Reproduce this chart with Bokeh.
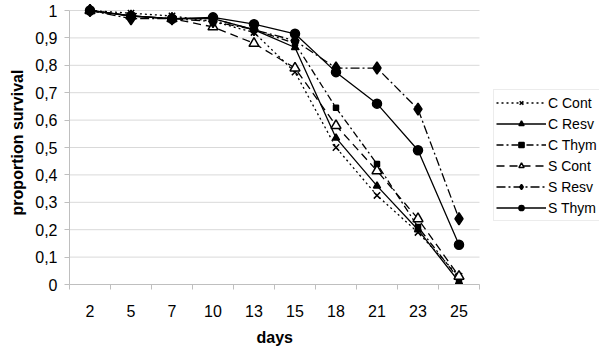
from bokeh.plotting import figure
from bokeh.models import Range1d, FixedTicker, Legend, LegendItem, Title
from bokeh.embed import file_html
from bokeh.resources import INLINE

days = ["2", "5", "7", "10", "13", "15", "18", "21", "23", "25"]
c_cont = [1.0, 0.99, 0.98, 0.96, 0.92, 0.775, 0.50, 0.325, 0.19, 0.03]
c_resv = [1.0, 0.98, 0.97, 0.97, 0.93, 0.865, 0.535, 0.36, 0.20, 0.01]
c_thym = [1.0, 0.98, 0.97, 0.97, 0.93, 0.88, 0.645, 0.44, 0.21, 0.02]
s_cont = [1.0, 0.98, 0.97, 0.94, 0.88, 0.79, 0.58, 0.415, 0.24, 0.03]
s_resv = [1.0, 0.97, 0.97, 0.96, 0.93, 0.89, 0.79, 0.79, 0.64, 0.24]
s_thym = [1.0, 0.98, 0.97, 0.975, 0.95, 0.915, 0.775, 0.66, 0.49, 0.145]
y_ticks = [i / 10 for i in range(11)]
y_tick_labels = ["0", "0,1", "0,2", "0,3", "0,4", "0,5", "0,6", "0,7", "0,8", "0,9", "1"]

FONT = "Liberation Sans"
n = len(days)
xs = [i + 0.5 for i in range(n)]

# plot area of the categories is 410 px wide; the frame extends to the right
# so that the legend (drawn inside the frame) is not clipped
p = figure(width=600, height=356, output_backend="svg", toolbar_location=None,
           x_range=Range1d(0, n * 530 / 410), y_range=Range1d(0, 1 + 10 / 274),
           min_border_left=69, min_border_right=1, min_border_top=0,
           min_border_bottom=72)
p.outline_line_color = None
p.background_fill_color = "white"
p.border_fill_color = "white"

# horizontal grid lines limited to the category area
p.xgrid.grid_line_color = None
p.ygrid.grid_line_color = None
p.segment(x0=[0] * len(y_ticks), x1=[n] * len(y_ticks), y0=y_ticks, y1=y_ticks,
          line_color="#d9d9d9", line_width=1)

# axes
p.xaxis.ticker = FixedTicker(ticks=xs, minor_ticks=list(range(n + 1)))
p.xaxis.major_label_overrides = {x: d for x, d in zip(xs, days)}
p.xaxis.bounds = (0, n)
p.xaxis.major_tick_out = 0
p.xaxis.major_tick_in = 0
p.xaxis.minor_tick_out = 5
p.xaxis.minor_tick_in = 0
p.xaxis.minor_tick_line_color = "#bfbfbf"
p.xaxis.axis_line_color = "#bfbfbf"
p.xaxis.major_label_standoff = 15

p.yaxis.ticker = FixedTicker(ticks=y_ticks, minor_ticks=[])
p.yaxis.major_label_overrides = {t: l for t, l in zip(y_ticks, y_tick_labels)}
p.yaxis.bounds = (0, 1)
p.yaxis.major_tick_out = 5
p.yaxis.major_tick_in = 0
p.yaxis.major_tick_line_color = "#bfbfbf"
p.yaxis.axis_line_color = "#bfbfbf"
p.yaxis.major_label_standoff = 7
p.yaxis.axis_label = "proportion survival"
p.yaxis.axis_label_standoff = 6

for ax in (p.xaxis[0], p.yaxis[0]):
    ax.major_label_text_font = FONT
    ax.major_label_text_font_size = "16px"
    ax.major_label_text_color = "black"
    ax.axis_label_text_font = FONT
    ax.axis_label_text_font_size = "16px"
    ax.axis_label_text_font_style = "bold"
    ax.axis_label_text_color = "black"

# x axis title centred under the category area
xtitle = Title(text="days", align="left", offset=187, standoff=14,
               text_font=FONT, text_font_size="16px", text_font_style="bold",
               text_color="black")
p.add_layout(xtitle, "below")

series = [
    ("C Cont", c_cont, "2 3", "x", 9, "black"),
    ("C Resv", c_resv, "solid", "triangle", 7, "black"),
    ("C Thym", c_thym, "7 3 2 3", "square", 5, "black"),
    ("S Cont", s_cont, "8 5", "triangle", 10, "white"),
    ("S Resv", s_resv, "9 3 2 3", "diamond", 12, "black"),
    ("S Thym", s_thym, "solid", "circle", 9, "black"),
]

items = []
for name, ys, dash, marker, size, fill in series:
    r1 = p.line(xs, ys, line_color="black", line_width=1.3, line_dash=dash)
    r2 = p.scatter(xs, ys, marker=marker, size=size, fill_color=fill,
                   line_color="black", line_width=1.5)
    items.append(LegendItem(label=name, renderers=[r1, r2]))

legend = Legend(items=items, location=(424, 63))
legend.padding = 2
legend.spacing = 0
legend.margin = 0
legend.label_height = 21
legend.glyph_height = 13
legend.glyph_width = 50
legend.label_standoff = 2
legend.label_text_font = FONT
legend.label_text_font_size = "14px"
legend.label_text_color = "black"
legend.border_line_color = "#d9d9d9"
legend.background_fill_color = "white"
legend.background_fill_alpha = 1
p.add_layout(legend)

open("out.html", "w").write(file_html(p, INLINE))
